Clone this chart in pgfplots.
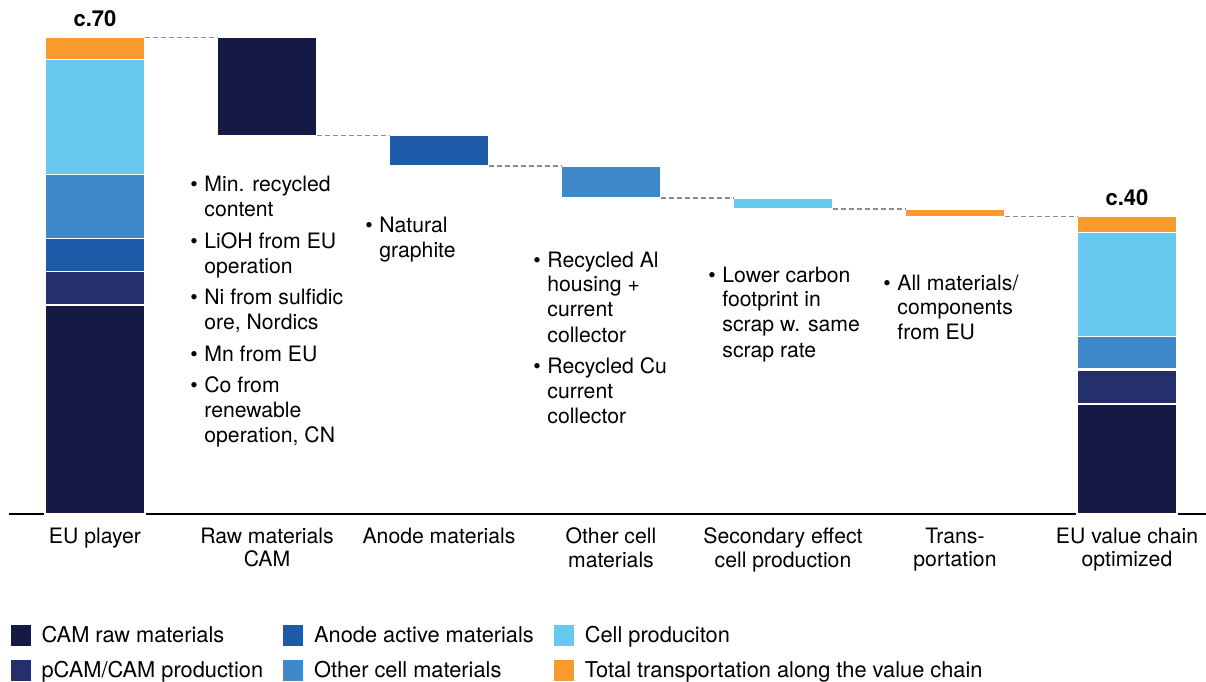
\documentclass[border=0pt]{standalone}
\usepackage{fontspec}
\setmainfont{TeX Gyre Heros}
\usepackage{pgfplots}
\pgfplotsset{compat=1.18}

\definecolor{camraw}{HTML}{141A44}
\definecolor{pcam}{HTML}{24306C}
\definecolor{anode}{HTML}{1D5AA8}
\definecolor{othercell}{HTML}{3F88C9}
\definecolor{cellprod}{HTML}{67C8F0}
\definecolor{transp}{HTML}{F99A2E}
\definecolor{dashgray}{HTML}{8C8C8C}

\newcommand{\fs}{\fontsize{10.6}{12.5}\selectfont}

% waterfall: base is the invisible part under a floating bar
\pgfplotstableread{
x base cam pcam anode other cell trans
0 0     30.7  4.9 4.8  9.4  16.9  3.3
1 55.55 14.45 0   0    0    0     0
2 51.1  0     0   4.45 0    0     0
3 46.4  0     0   0    4.7  0     0
4 44.8  0     0   0    0    1.6   0
5 43.7  0     0   0    0    0     1.1
6 0     16.15 4.9 0.25 4.75  15.25 2.4
}\wf

\begin{document}
\begin{tikzpicture}
\useasboundingbox (-4.5pt,-83.5pt) rectangle (598.5pt,257pt);
\begin{axis}[
    at={(0,0)}, anchor=south west,
    scale only axis,
    x=86pt, y=3.405pt,
    xmin=-0.5, xmax=6.4593,
    ymin=0, ymax=70,
    clip=false,
    ybar stacked,
    bar width=50pt,
    axis x line=bottom,
    axis y line=none,
    axis line style={-, line width=0.8pt, black},
    xtick={0,...,6},
    major tick length=0pt,
    xticklabels={EU player,{Raw materials\\CAM},Anode materials,{Other cell\\materials},{Secondary effect\\cell production},{Trans-\\portation},{EU value chain\\optimized}},
    xticklabel style={font=\fontsize{10.6}{11.7}\selectfont, align=center, anchor=north, yshift=-3.5pt},
    every axis plot/.append style={draw=white, line width=0.6pt},
    legend style={at={(-0.004,-0.218)}, anchor=north west, draw=none, fill=none,
        font=\fontsize{10.9}{12.5}\selectfont, row sep=3.8pt,
        /tikz/every odd column/.append style={column sep=3.5pt},
        /tikz/column 2/.append style={column sep=8pt},
        /tikz/column 4/.append style={column sep=8pt}},
    legend columns=2,
    transpose legend,
    legend cell align=left,
    legend image code/.code={\fill[#1, draw=none] (0pt,-5.25pt) rectangle (10pt,5.25pt);},
]
\addplot[fill=none, draw=none, forget plot] table[x=x, y=base] {\wf};
\addplot[fill=camraw] table[x=x, y=cam] {\wf};
\addplot[fill=pcam] table[x=x, y=pcam] {\wf};
\addplot[fill=anode] table[x=x, y=anode] {\wf};
\addplot[fill=othercell] table[x=x, y=other] {\wf};
\addplot[fill=cellprod] table[x=x, y=cell] {\wf};
\addplot[fill=transp] table[x=x, y=trans] {\wf};
\legend{CAM raw materials, pCAM/CAM production, Anode active materials, Other cell materials, Cell produciton, Total transportation along the value chain}
\end{axis}

% connectors and totals
\begin{axis}[
    at={(0,0)}, anchor=south west,
    scale only axis,
    x=86pt, y=3.405pt,
    xmin=-0.5, xmax=6.4593,
    ymin=0, ymax=70,
    clip=false,
    hide axis,
]
\addplot[dashgray, line width=0.6pt, dash pattern=on 2.5pt off 1.5pt] coordinates {(0.29,70) (0.71,70)};
\addplot[dashgray, line width=0.6pt, dash pattern=on 2.5pt off 1.5pt] coordinates {(1.29,55.55) (1.71,55.55)};
\addplot[dashgray, line width=0.6pt, dash pattern=on 2.5pt off 1.5pt] coordinates {(2.29,51.1) (2.71,51.1)};
\addplot[dashgray, line width=0.6pt, dash pattern=on 2.5pt off 1.5pt] coordinates {(3.29,46.4) (3.71,46.4)};
\addplot[dashgray, line width=0.6pt, dash pattern=on 2.5pt off 1.5pt] coordinates {(4.29,44.8) (4.71,44.8)};
\addplot[dashgray, line width=0.6pt, dash pattern=on 2.5pt off 1.5pt] coordinates {(5.29,43.7) (5.71,43.7)};
\node[anchor=base, font=\fontsize{11}{13}\selectfont\bfseries] at (axis cs:0,70) [yshift=5.5pt] {c.70};
\node[anchor=base, font=\fontsize{11}{13}\selectfont\bfseries] at (axis cs:6,43.7) [yshift=5.5pt] {c.40};
\end{axis}

% bullet notes
\node[anchor=base west, inner sep=0pt, font=\fs] at (90.5pt,161pt) {%
\begin{tabular}[t]{@{}p{7pt}@{}l@{}}
• & Min. recycled\\ & content\\[3.2pt]
• & LiOH from EU\\ & operation\\[3.2pt]
• & Ni from sulfidic\\ & ore, Nordics\\[3.2pt]
• & Mn from EU\\[3.2pt]
• & Co from\\ & renewable\\ & operation, CN
\end{tabular}};
\node[anchor=base west, inner sep=0pt, font=\fs] at (178pt,140.5pt) {%
\begin{tabular}[t]{@{}p{7pt}@{}l@{}}
• & Natural\\ & graphite
\end{tabular}};
\node[anchor=base west, inner sep=0pt, font=\fs] at (262pt,123.5pt) {%
\begin{tabular}[t]{@{}p{7pt}@{}l@{}}
• & Recycled Al\\ & housing +\\ & current\\ & collector\\[3.2pt]
• & Recycled Cu\\ & current\\ & collector
\end{tabular}};
\node[anchor=base west, inner sep=0pt, font=\fs] at (349.5pt,116pt) {%
\begin{tabular}[t]{@{}p{7pt}@{}l@{}}
• & Lower carbon\\ & footprint in\\ & scrap w. same\\ & scrap rate
\end{tabular}};
\node[anchor=base west, inner sep=0pt, font=\fs] at (437pt,112pt) {%
\begin{tabular}[t]{@{}p{7pt}@{}l@{}}
• & All materials/\\ & components\\ & from EU
\end{tabular}};
\end{tikzpicture}
\end{document}
